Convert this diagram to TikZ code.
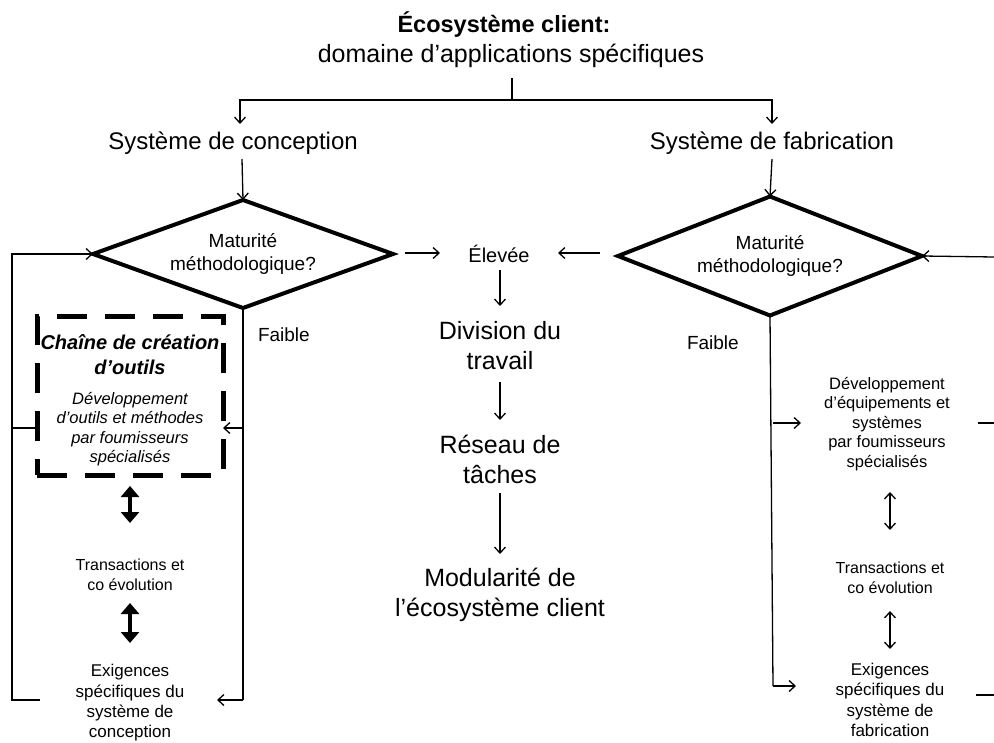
\documentclass[tikz,border=0pt]{standalone}
\usepackage{fontspec}
\setmainfont{Liberation Sans}
\usetikzlibrary{arrows.meta,shapes.geometric}
\newcommand\fsz[2]{\fontsize{#1}{#2}\selectfont}
\begin{document}
\begin{tikzpicture}[x=1pt,y=-1pt,
  every node/.style={inner sep=0pt,outer sep=0pt,align=center},
  ln/.style={line width=1.3pt},
  arr/.style={ln,-{Straight Barb[length=6pt,width=11pt]}},
  darr/.style={ln,{Straight Barb[length=6pt,width=11pt]}-{Straight Barb[length=6pt,width=11pt]}},
  thickdarr/.style={line width=4pt,{Triangle[length=11pt,width=18pt]}-{Triangle[length=11pt,width=18pt]}},
  decision/.style={diamond,draw,line width=4pt,aspect=2.8,font=\fsz{19}{23}},
  dashbox/.style={draw,line width=5pt,dash pattern=on 30pt off 18pt},
  mid/.style={font=\fsz{25}{30}},
  head/.style={font=\fsz{24}{29}}
]
\fill[white] (0,0) rectangle (994,743);
\useasboundingbox (0,0) rectangle (994,743);

% title
\node[font=\bfseries\fsz{23.5}{28}] (title) at (504,25) {Écosystème client:};
\node[font=\fsz{25}{30}] (sub) at (511,56) {domaine d’applications spécifiques};
\coordinate (stem) at (512,78);
\coordinate (split) at (512,100);
\coordinate (splitL) at (240,100);
\coordinate (splitR) at (772,100);
\coordinate (scTop) at (240,124);
\coordinate (sfTop) at (772,124);
\draw[ln] (stem) -- (split);
\draw[arr] (split) -- (splitL) -- (scTop);
\draw[arr] (split) -- (splitR) -- (sfTop);

\node[head] (sc) at (233,143) {Système de conception};
\node[head] (sf) at (772,143) {Système de fabrication};

% diamonds
\node[decision,minimum width=300pt,minimum height=108pt] (dl) at (243,254) {Maturité\\méthodologique?};
\node[decision,minimum width=304pt,minimum height=119pt] (dr) at (770,256) {Maturité\\méthodologique?};
\coordinate (scBot) at (242,159);
\coordinate (sfBot) at (772,159);
\draw[arr] (scBot) -- (dl.north);
\draw[arr] (sfBot) -- (dr.north);

% middle column
\node[font=\fsz{20}{24}] (elev) at (499,254) {Élevée};
\coordinate (mA1) at (405,253);
\coordinate (mA2) at (440,253);
\coordinate (mB1) at (600,253);
\coordinate (mB2) at (558,253);
\draw[arr] (mA1) -- (mA2);
\draw[arr] (mB1) -- (mB2);
\node[mid] (div) at (500,346) {Division du\\travail};
\node[mid] (res) at (500,459) {Réseau de\\tâches};
\node[mid] (mod) at (500,595) {Modularité de\\l’écosystème client};
\coordinate (d1a) at (500,270); \coordinate (d1b) at (500,306);
\coordinate (d2a) at (500,382); \coordinate (d2b) at (500,420);
\coordinate (d3a) at (500,493); \coordinate (d3b) at (500,554);
\draw[arr] (d1a) -- (d1b);
\draw[arr] (d2a) -- (d2b);
\draw[arr] (d3a) -- (d3b);

% left branch
\node[font=\fsz{19}{23},anchor=west] (fl) at (258,335) {Faible};
\node[dashbox,minimum width=186pt,minimum height=158pt] (box) at (130,396) {};
\node[font=\bfseries\itshape\fsz{20}{25}] (boxt) at (130,355) {Chaîne de création\\d’outils};
\node[font=\itshape\fsz{16.5}{19.4}] (boxb) at (130,429) {Développement\\d’outils et méthodes\\par foumisseurs\\spécialisés};
\node[font=\fsz{16}{20}] (trl) at (130,575) {Transactions et\\co évolution};
\node[font=\fsz{17}{20.4}] (exl) at (130,703) {Exigences\\spécifiques du\\système de\\conception};
\coordinate (ta1) at (130,486); \coordinate (ta2) at (130,523);
\coordinate (tb1) at (130,603); \coordinate (tb2) at (130,643);
\draw[thickdarr] (ta1) -- (ta2);
\draw[thickdarr] (tb1) -- (tb2);

\coordinate (lTop) at (12,254);
\coordinate (lBot) at (12,700);
\coordinate (lEx) at (40,700);
\coordinate (lMid) at (12,428);
\draw[arr] (lEx) -- (lBot) -- (lTop) -- (dl.west);
\draw[ln] (lMid) -- (lMid -| box.west);
\coordinate (rv1) at (243,428);
\coordinate (rv2) at (243,700);
\coordinate (exTip) at (217,700);
\draw[ln] (dl.south) -- (rv2);
\draw[arr] (rv1) -- (rv1 -| box.east);
\draw[arr] (rv2) -- (exTip);

% right branch
\node[font=\fsz{19}{23},anchor=west] (fr) at (687,343) {Faible};
\node[font=\fsz{16.5}{19.5}] (dev) at (887,424) {Développement\\d'équipements et\\systèmes\\par foumisseurs\\spécialisés};
\node[font=\fsz{16}{20}] (trr) at (890,578) {Transactions et\\co évolution};
\node[font=\fsz{17}{20.4}] (exr) at (890,700) {Exigences\\spécifiques du\\système de\\fabrication};
\coordinate (tc1) at (890,492); \coordinate (tc2) at (890,530);
\coordinate (td1) at (890,611); \coordinate (td2) at (890,649);
\draw[darr] (tc1) -- (tc2);
\draw[darr] (td1) -- (td2);

\coordinate (rvA) at (773,423);
\coordinate (rvAt) at (801,423);
\coordinate (rvB) at (773,686);
\coordinate (rvBt) at (796,686);
\draw[ln] (dr.south) -- (rvB);
\draw[arr] (rvA) -- (rvAt);
\draw[arr] (rvB) -- (rvBt);
\coordinate (rEdge) at (994,257);
\draw[arr] (rEdge) -- (dr.east);
\coordinate (s1a) at (978,423); \coordinate (s1b) at (994,423);
\coordinate (s2a) at (976,695); \coordinate (s2b) at (994,695);
\draw[ln] (s1a) -- (s1b);
\draw[ln] (s2a) -- (s2b);
\end{tikzpicture}
\end{document}
